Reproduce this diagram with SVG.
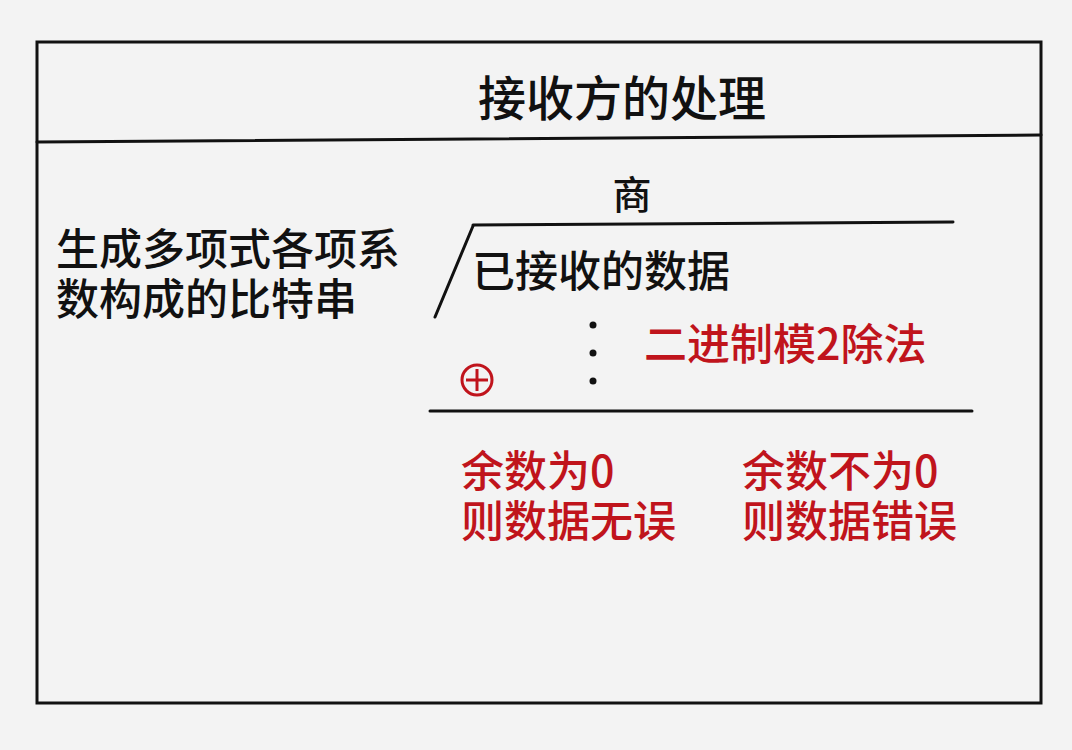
<svg xmlns="http://www.w3.org/2000/svg" width="1072" height="750" viewBox="0 0 1072 750">
<style>
text{font-family:"Noto Sans CJK SC","Noto Sans",sans-serif;font-weight:500;}
.blk{fill:#111;}
.red{fill:#c0141c;}
.ln{stroke:#111;stroke-width:3;fill:none;stroke-linecap:round;}
</style>
<rect x="0" y="0" width="1072" height="750" fill="#f3f3f3"/>
<g id="frame">
<rect x="37" y="42" width="1004" height="661" class="ln" stroke-linecap="butt"/>
<line x1="37" y1="142" x2="1041" y2="135" class="ln"/>
</g>
<g id="title"><text x="622" y="116" font-size="48" text-anchor="middle" class="blk">接收方的处理</text></g>
<g id="left">
<text x="56" y="265" font-size="43" class="blk">生成多项式各项系</text>
<text x="56" y="315" font-size="43" class="blk">数构成的比特串</text>
</g>
<g id="connectors">
<line x1="435" y1="317" x2="473" y2="226" class="ln"/>
<line x1="473" y1="225" x2="953" y2="222" class="ln"/>
<line x1="430" y1="411" x2="972" y2="411" class="ln"/>
</g>
<g id="division">
<text x="632" y="209" font-size="39" text-anchor="middle" class="blk">商</text>
<text x="472" y="287" font-size="43" class="blk">已接收的数据</text>
<circle cx="593" cy="325" r="3.5" fill="#111"/>
<circle cx="593" cy="353" r="3.5" fill="#111"/>
<circle cx="593" cy="381" r="3.5" fill="#111"/>
<text x="644" y="360" font-size="43" class="red">二进制模2除法</text>
<g id="xor" stroke="#c0141c" stroke-width="3" fill="none">
<circle cx="477" cy="380" r="15"/>
<line x1="466" y1="380" x2="488" y2="380"/>
<line x1="477" y1="369" x2="477" y2="391"/>
</g>
</g>
<g id="results">
<text x="461" y="487" font-size="43" class="red">余数为0</text>
<text x="461" y="537" font-size="43" class="red">则数据无误</text>
<text x="742" y="487" font-size="43" class="red">余数不为0</text>
<text x="742" y="537" font-size="43" class="red">则数据错误</text>
</g>
</svg>
